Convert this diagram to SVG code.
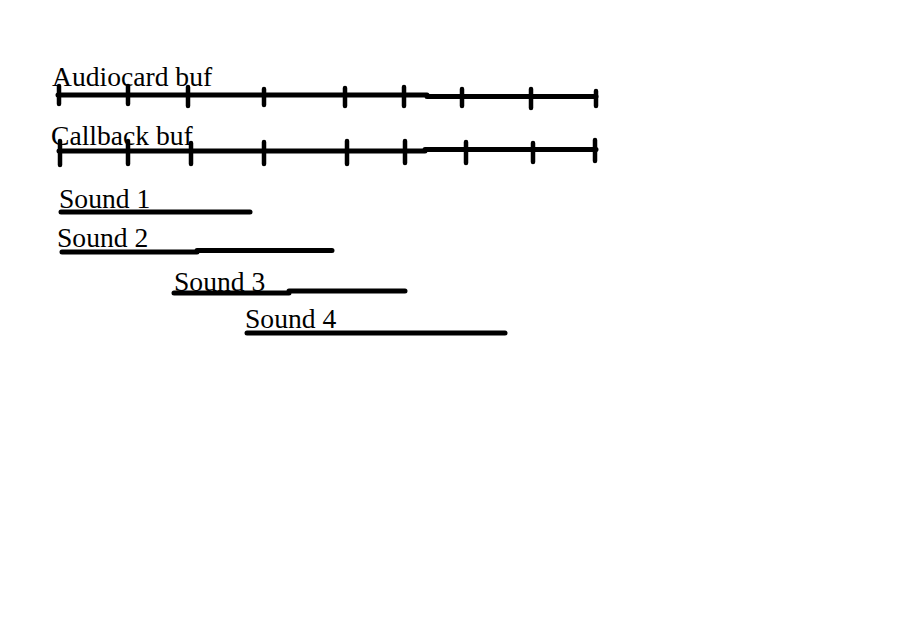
<svg xmlns="http://www.w3.org/2000/svg" width="914" height="630" viewBox="0 0 914 630">
<style>
text{font-family:"Liberation Serif","Times New Roman",serif;font-size:27.6px;fill:#000}
.ln{stroke:#000;stroke-width:5;stroke-linecap:round;fill:none}
.tk{stroke:#000;stroke-width:4.5;stroke-linecap:round;fill:none}
</style>
<rect width="914" height="630" fill="#fff"/>
<g id="audiocard">
<text x="52" y="86">Audiocard buf</text>
<path class="ln" d="M58 95 H427 M427 96.5 H596"/>
<path class="tk" d="M59 86 V104 M128 86 V104 M188 87 V106 M264 89 V105 M345 88 V106 M404 87 V106 M462 89 V106 M531 89 V108 M596 91 V106"/>
</g>
<g id="callback">
<text x="51" y="145">Callback buf</text>
<path class="ln" d="M59 151 H425 M425 149.5 H596"/>
<path class="tk" d="M60 141 V165 M128 141 V164 M191 143 V164 M264 142 V164 M347 141 V164 M405 141 V163 M466 142 V163 M533 143 V162 M595 140 V161"/>
</g>
<g id="sound1">
<text x="59" y="208">Sound 1</text>
<path class="ln" d="M61 212 H250"/>
</g>
<g id="sound2">
<text x="57" y="247">Sound 2</text>
<path class="ln" d="M62 252 H197 M197 250.5 H332"/>
</g>
<g id="sound3">
<text x="174" y="291">Sound 3</text>
<path class="ln" d="M174 293 H289 M289 291 H405"/>
</g>
<g id="sound4">
<text x="245" y="328">Sound 4</text>
<path class="ln" d="M247 333 H505"/>
</g>
</svg>
